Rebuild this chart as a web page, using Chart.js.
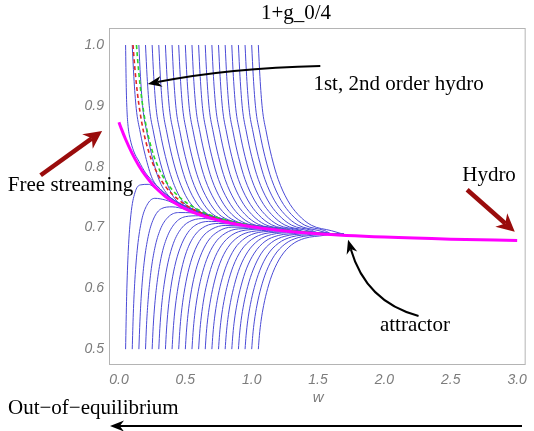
<!DOCTYPE html>
<html>
<head>
<meta charset="UTF-8">
<script src="https://cdn.jsdelivr.net/npm/chart.js@4"></script>
<style>
  html, body { margin: 0; padding: 0; background: #fff; }
  canvas { display: block; }
</style>
</head>
<body>
<canvas id="flow" width="534" height="431"></canvas>
<script>
// tick values
const xTicks = [0, 0.5, 1, 1.5, 2, 2.5, 3];
const yTicks = [0.5, 0.6, 0.7, 0.8, 0.9, 1.0];

// attractor (magenta)
const attractorW = [0, 0.02, 0.05, 0.1, 0.15, 0.2, 0.25, 0.3, 0.35, 0.4, 0.5, 0.6, 0.7, 0.8, 1.0, 1.2, 1.5, 2.0, 2.5, 3.0];
const attractorF = [0.873, 0.8613, 0.8451, 0.8215, 0.8017, 0.7853, 0.7717, 0.7604, 0.751, 0.7431, 0.7307, 0.7215, 0.7146, 0.7091, 0.7011, 0.6956, 0.6899, 0.6843, 0.6808, 0.6787];

// 1st order hydro (red dashed)
const firstOrderW = [0.106, 0.11, 0.12, 0.13, 0.14, 0.15, 0.17, 0.2, 0.25, 0.3, 0.35, 0.4, 0.5, 0.6, 0.7, 0.8, 1.0, 1.2, 1.5, 1.7];
const firstOrderF = [1.0, 0.9882, 0.9614, 0.9388, 0.9193, 0.9025, 0.8747, 0.8435, 0.8082, 0.7846, 0.7677, 0.7551, 0.7374, 0.7256, 0.7172, 0.7109, 0.702, 0.6961, 0.6902, 0.6875];

// 2nd order hydro (green dashed)
const secondOrderW = [0.132, 0.14, 0.15, 0.17, 0.2, 0.25, 0.3, 0.35, 0.4, 0.5, 0.6, 0.7, 0.8, 1.0, 1.2, 1.5, 1.7];
const secondOrderF = [1.0, 0.978, 0.9536, 0.9145, 0.8723, 0.8266, 0.7974, 0.7772, 0.7623, 0.742, 0.7289, 0.7195, 0.7127, 0.7032, 0.697, 0.6908, 0.6879];

// where the blue runs settle once they have joined the bundle
const blueTailW = [0.15, 0.2, 0.25, 0.3, 0.35, 0.4, 0.45, 0.5, 0.6, 0.7, 0.8, 0.9, 1.0, 1.1, 1.2, 1.3, 1.4, 1.5, 1.6, 1.7];
const blueTailF = [0.805, 0.79, 0.777, 0.765, 0.755, 0.747, 0.74, 0.735, 0.726, 0.718, 0.712, 0.707, 0.703, 0.7, 0.697, 0.6948, 0.6928, 0.6912, 0.6898, 0.6885];

// runs starting from f = 1
const upperRuns = [
  [[0.05,1],[0.055,0.93],[0.061,0.89],[0.07,0.864],[0.085,0.845],[0.11,0.826],[0.15,0.809]],
  [[0.1,1],[0.112,0.948],[0.13,0.896],[0.16,0.857],[0.2,0.817],[0.25,0.781],[0.32,0.7615],[0.4,0.7473]],
  [[0.15,1],[0.162,0.948],[0.18,0.896],[0.21,0.857],[0.25,0.8166],[0.3,0.7796],[0.37,0.7532],[0.45,0.7405]],
  [[0.2,1],[0.212,0.948],[0.23,0.896],[0.26,0.857],[0.3,0.8167],[0.35,0.7794],[0.42,0.7475],[0.5,0.7356],[0.6,0.7264]],
  [[0.25,1],[0.262,0.948],[0.28,0.896],[0.31,0.857],[0.35,0.8168],[0.4,0.7793],[0.47,0.746],[0.55,0.7309],[0.65,0.7224]],
  [[0.3,1],[0.312,0.948],[0.33,0.896],[0.36,0.857],[0.4,0.8166],[0.45,0.7792],[0.52,0.7457],[0.6,0.7274],[0.7,0.7186]],
  [[0.35,1],[0.362,0.948],[0.38,0.896],[0.41,0.857],[0.45,0.8166],[0.5,0.7791],[0.57,0.7455],[0.65,0.7245],[0.75,0.7157],[0.9,0.7074]],
  [[0.4,1],[0.412,0.948],[0.43,0.896],[0.46,0.857],[0.5,0.8166],[0.55,0.7791],[0.62,0.7452],[0.7,0.7229],[0.8,0.7129],[0.95,0.7055]],
  [[0.45,1],[0.462,0.948],[0.48,0.896],[0.51,0.857],[0.55,0.8166],[0.6,0.779],[0.67,0.7454],[0.75,0.7222],[0.85,0.7107],[1.0,0.7038]],
  [[0.5,1],[0.512,0.948],[0.53,0.896],[0.56,0.857],[0.6,0.8166],[0.65,0.779],[0.72,0.7453],[0.8,0.7219],[0.9,0.7086],[1.05,0.7024]],
  [[0.55,1],[0.562,0.948],[0.58,0.896],[0.61,0.857],[0.65,0.8166],[0.7,0.779],[0.77,0.7453],[0.85,0.7217],[0.95,0.7072],[1.1,0.7012]],
  [[0.6,1],[0.612,0.948],[0.63,0.896],[0.66,0.857],[0.7,0.8166],[0.75,0.779],[0.82,0.7453],[0.9,0.7216],[1.0,0.706],[1.15,0.6998]],
  [[0.65,1],[0.662,0.948],[0.68,0.896],[0.71,0.857],[0.75,0.8166],[0.8,0.779],[0.87,0.7452],[0.95,0.7216],[1.05,0.7053],[1.2,0.6986]],
  [[0.7,1],[0.712,0.948],[0.73,0.896],[0.76,0.857],[0.8,0.8166],[0.85,0.779],[0.92,0.7452],[1.0,0.7215],[1.1,0.7049],[1.25,0.6978]],
  [[0.75,1],[0.762,0.948],[0.78,0.896],[0.81,0.857],[0.85,0.8166],[0.9,0.779],[0.97,0.7452],[1.05,0.7214],[1.15,0.7045],[1.3,0.697]],
  [[0.8,1],[0.812,0.948],[0.83,0.896],[0.86,0.857],[0.9,0.8166],[0.95,0.779],[1.02,0.7451],[1.1,0.7214],[1.2,0.7042],[1.35,0.6964]],
  [[0.85,1],[0.862,0.948],[0.88,0.896],[0.91,0.857],[0.95,0.8166],[1.0,0.779],[1.07,0.7451],[1.15,0.7214],[1.25,0.7041],[1.4,0.6959]],
  [[0.9,1],[0.912,0.948],[0.93,0.896],[0.96,0.857],[1.0,0.8166],[1.05,0.779],[1.12,0.7451],[1.2,0.7214],[1.3,0.704],[1.45,0.6955]],
  [[0.95,1],[0.962,0.948],[0.98,0.896],[1.01,0.857],[1.05,0.8166],[1.1,0.779],[1.17,0.745],[1.25,0.7214],[1.35,0.7039],[1.5,0.6952]],
  [[1.0,1],[1.012,0.948],[1.03,0.896],[1.06,0.857],[1.1,0.8166],[1.15,0.779],[1.22,0.745],[1.3,0.7213],[1.4,0.7038],[1.55,0.695]],
  [[1.05,1],[1.062,0.948],[1.08,0.896],[1.11,0.857],[1.15,0.8166],[1.2,0.779],[1.27,0.745],[1.35,0.7212],[1.45,0.7037],[1.6,0.6948]]
];

// runs starting from f = 0.5
const lowerRuns = [
  [[0.05,0.5],[0.058,0.587],[0.07,0.661],[0.09,0.721],[0.12,0.757],[0.16,0.77],[0.22,0.771],[0.3,0.76],[0.4,0.745],[0.55,0.73]],
  [[0.1,0.5],[0.108,0.558],[0.12,0.614],[0.14,0.668],[0.17,0.711],[0.21,0.7365],[0.27,0.748],[0.35,0.7452],[0.45,0.7365],[0.6,0.7252]],
  [[0.15,0.5],[0.158,0.546],[0.17,0.594],[0.19,0.643],[0.22,0.685],[0.26,0.714],[0.32,0.731],[0.4,0.734],[0.5,0.73],[0.65,0.721]],
  [[0.2,0.5],[0.208,0.541],[0.22,0.582],[0.24,0.626],[0.27,0.666],[0.31,0.696],[0.37,0.717],[0.45,0.7246],[0.55,0.7241],[0.7,0.7165]],
  [[0.25,0.5],[0.258,0.537],[0.27,0.574],[0.29,0.614],[0.32,0.653],[0.36,0.683],[0.42,0.7065],[0.5,0.7178],[0.6,0.7193],[0.75,0.7132]],
  [[0.3,0.5],[0.308,0.534],[0.32,0.5685],[0.34,0.606],[0.37,0.643],[0.41,0.674],[0.47,0.6985],[0.55,0.7116],[0.65,0.7147],[0.8,0.71]],
  [[0.35,0.5],[0.358,0.5315],[0.37,0.5644],[0.39,0.6],[0.42,0.636],[0.46,0.666],[0.52,0.692],[0.6,0.7067],[0.7,0.7101],[0.85,0.7074]],
  [[0.4,0.5],[0.408,0.53],[0.42,0.561],[0.44,0.595],[0.47,0.63],[0.51,0.661],[0.57,0.687],[0.65,0.702],[0.75,0.7067],[0.9,0.7047]],
  [[0.45,0.5],[0.458,0.529],[0.47,0.559],[0.49,0.592],[0.52,0.626],[0.56,0.656],[0.62,0.682],[0.7,0.6974],[0.8,0.7034],[0.95,0.7026]],
  [[0.5,0.5],[0.508,0.528],[0.52,0.557],[0.54,0.589],[0.57,0.622],[0.61,0.651],[0.67,0.6775],[0.75,0.6938],[0.85,0.7006],[1.0,0.7005]],
  [[0.55,0.5],[0.558,0.527],[0.57,0.555],[0.59,0.586],[0.62,0.618],[0.66,0.647],[0.72,0.6735],[0.8,0.6904],[0.9,0.6978],[1.05,0.6989]],
  [[0.6,0.5],[0.608,0.526],[0.62,0.553],[0.64,0.584],[0.67,0.615],[0.71,0.644],[0.77,0.67],[0.85,0.6876],[0.95,0.6956],[1.1,0.6973]],
  [[0.65,0.5],[0.658,0.526],[0.67,0.552],[0.69,0.581],[0.72,0.612],[0.76,0.641],[0.82,0.667],[0.9,0.6848],[1.0,0.6934],[1.15,0.6957]],
  [[0.7,0.5],[0.708,0.525],[0.72,0.551],[0.74,0.58],[0.77,0.61],[0.81,0.638],[0.87,0.6646],[0.95,0.6826],[1.05,0.6918],[1.2,0.6941]],
  [[0.75,0.5],[0.758,0.5245],[0.77,0.5496],[0.79,0.578],[0.82,0.608],[0.86,0.636],[0.92,0.6622],[1.0,0.6804],[1.1,0.6901],[1.25,0.693]],
  [[0.8,0.5],[0.808,0.524],[0.82,0.549],[0.84,0.577],[0.87,0.606],[0.91,0.634],[0.97,0.66],[1.05,0.6788],[1.15,0.6885],[1.3,0.6918]],
  [[0.85,0.5],[0.858,0.5236],[0.87,0.548],[0.89,0.575],[0.92,0.604],[0.96,0.632],[1.02,0.658],[1.1,0.6771],[1.2,0.6869],[1.35,0.6908]],
  [[0.9,0.5],[0.908,0.523],[0.92,0.547],[0.94,0.574],[0.97,0.603],[1.01,0.63],[1.07,0.6567],[1.15,0.6755],[1.25,0.6857],[1.4,0.6897]],
  [[0.95,0.5],[0.958,0.523],[0.97,0.5466],[0.99,0.5733],[1.02,0.6017],[1.06,0.6289],[1.12,0.6552],[1.2,0.6739],[1.3,0.6845],[1.45,0.6889]],
  [[1.0,0.5],[1.008,0.5228],[1.02,0.5461],[1.04,0.5726],[1.07,0.6008],[1.11,0.6276],[1.17,0.6537],[1.25,0.6727],[1.35,0.6834],[1.5,0.688]],
  [[1.05,0.5],[1.058,0.5225],[1.07,0.5456],[1.09,0.5718],[1.12,0.5996],[1.16,0.6262],[1.22,0.6521],[1.3,0.6715],[1.4,0.6823],[1.55,0.6873]]
];

const toPoints = (ws, fs) => ws.map((w, i) => ({ x: w, y: fs[i] }));

// a run carries on along the settled bundle after its last listed point
function runPoints(run) {
  const pts = run.map(p => ({ x: p[0], y: p[1] }));
  const lastW = run[run.length - 1][0];
  blueTailW.forEach((w, i) => {
    if (w >= lastW + 0.04) pts.push({ x: w, y: blueTailF[i] });
  });
  return pts;
}

const datasets = [
  { data: toPoints(attractorW, attractorF), borderColor: '#ff00ff', borderWidth: 3, order: 0 },
  { data: toPoints(secondOrderW, secondOrderF), borderColor: '#2ad42a', borderWidth: 1.6, borderDash: [4, 3], order: 1 },
  { data: toPoints(firstOrderW, firstOrderF), borderColor: '#e02828', borderWidth: 1.6, borderDash: [4, 3], order: 2 }
];
upperRuns.concat(lowerRuns).forEach(run => {
  datasets.push({ data: runPoints(run), borderColor: 'rgb(74,74,214)', borderWidth: 1, order: 3 });
});
datasets.forEach(d => {
  d.pointRadius = 0;
  d.fill = false;
  d.cubicInterpolationMode = 'monotone';
});

function arrow(ctx, s, c, t, color, width, len, half) {
  const from = c || s;
  const ang = Math.atan2(t[1] - from[1], t[0] - from[0]);
  const cos = Math.cos(ang), sin = Math.sin(ang);
  const nx = t[0] - len * 0.7 * cos, ny = t[1] - len * 0.7 * sin;
  const bx = t[0] - len * cos, by = t[1] - len * sin;
  ctx.strokeStyle = color;
  ctx.fillStyle = color;
  ctx.lineWidth = width;
  ctx.beginPath();
  ctx.moveTo(s[0], s[1]);
  if (c) ctx.quadraticCurveTo(c[0], c[1], nx, ny);
  else ctx.lineTo(nx, ny);
  ctx.stroke();
  ctx.beginPath();
  ctx.moveTo(t[0], t[1]);
  ctx.lineTo(bx + half * sin, by - half * cos);
  ctx.lineTo(nx, ny);
  ctx.lineTo(bx - half * sin, by + half * cos);
  ctx.closePath();
  ctx.fill();
}

const notes = {
  id: 'notes',
  afterDraw(chart) {
    const { ctx, chartArea: a, scales: { x, y } } = chart;
    const p = (w, f) => [x.getPixelForValue(w), y.getPixelForValue(f)];
    ctx.save();
    ctx.strokeStyle = '#b4b4b4';
    ctx.lineWidth = 1;
    ctx.strokeRect(a.left + 0.5, a.top + 0.5, a.width - 1, a.height - 1);

    ctx.fillStyle = '#7c7c7c';
    ctx.font = 'italic 15px "Liberation Sans"';
    ctx.textAlign = 'center';
    ctx.textBaseline = 'alphabetic';
    ctx.fillText('w', x.getPixelForValue(1.5), a.bottom + 37);

    ctx.fillStyle = '#000';
    ctx.font = '21px "Liberation Serif"';
    ctx.fillText('1+g_0/4', 296, 19);
    ctx.textAlign = 'left';
    let q = p(1.465, 0.926); ctx.fillText('1st, 2nd order hydro', q[0], q[1]);
    q = p(-0.837, 0.76); ctx.fillText('Free streaming', q[0], q[1]);
    q = p(2.586, 0.7765); ctx.fillText('Hydro', q[0], q[1]);
    q = p(1.966, 0.53); ctx.fillText('attractor', q[0], q[1]);
    ctx.fillText('Out\u2212of\u2212equilibrium', 8, 414);

    arrow(ctx, p(1.517, 0.9655), p(0.83, 0.9622), p(0.217, 0.936), '#000', 2, 14, 5.5);
    arrow(ctx, p(2.257, 0.5547), p(1.861, 0.5777), p(1.726, 0.68), '#000', 2, 14, 5.5);
    arrow(ctx, p(-0.59, 0.786), null, p(-0.127, 0.8587), '#9a0c0c', 4.5, 18, 9);
    arrow(ctx, p(2.623, 0.762), null, p(2.982, 0.693), '#9a0c0c', 4.5, 18, 9);
    arrow(ctx, [522, 426], null, [110, 426], '#000', 2, 14, 5.5);
    ctx.restore();
  }
};

const tickFont = { family: 'Liberation Sans', size: 14, style: 'italic' };

new Chart(document.getElementById('flow'), {
  type: 'line',
  data: { datasets },
  options: {
    responsive: false,
    animation: false,
    devicePixelRatio: 1,
    layout: { padding: { top: 28, right: 5, left: 0, bottom: 0 } },
    plugins: { legend: { display: false }, tooltip: { enabled: false } },
    scales: {
      x: {
        type: 'linear', min: -0.075, max: 3.064,
        grid: { display: false, drawTicks: false },
        border: { display: false },
        afterBuildTicks: s => { s.ticks = xTicks.map(v => ({ value: v })); },
        afterFit: s => { s.height = 66; },
        ticks: { padding: 7, color: '#7c7c7c', font: tickFont, maxRotation: 0, autoSkip: false, callback: v => v.toFixed(1) }
      },
      y: {
        type: 'linear', min: 0.474, max: 1.028,
        grid: { display: false, drawTicks: false },
        border: { display: false },
        afterBuildTicks: s => { s.ticks = yTicks.map(v => ({ value: v })); },
        afterFit: s => { s.width = 109; },
        ticks: { padding: 5, color: '#7c7c7c', font: tickFont, autoSkip: false, callback: v => v.toFixed(1) }
      }
    }
  },
  plugins: [notes]
});
</script>
</body>
</html>
